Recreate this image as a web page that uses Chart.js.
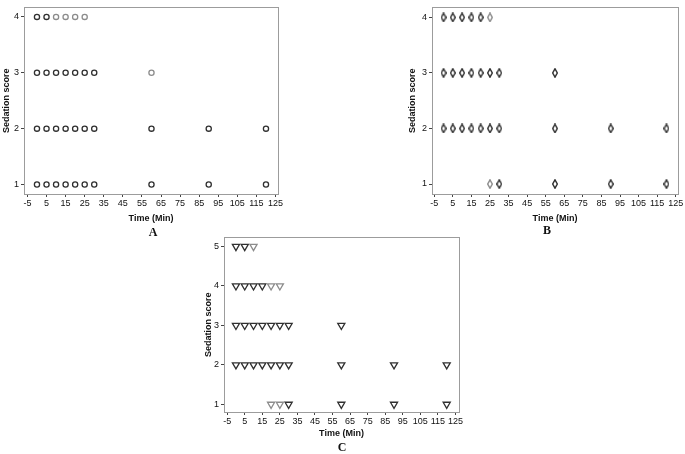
<!DOCTYPE html>
<html>
<head>
<meta charset="utf-8">
<script src="https://cdn.jsdelivr.net/npm/chart.js@4.4.1/dist/chart.umd.min.js"></script>
<style>
  body { margin: 0; background: #fff; width: 685px; height: 454px; position: relative; overflow: hidden; }
  canvas { position: absolute; }
  .letter { position: absolute; font: bold 12px "Liberation Serif", "DejaVu Serif", serif; color: #111; transform: translateX(-50%); line-height: 12px; }
</style>
</head>
<body>
<canvas id="chartA" width="290" height="226" style="left:0;top:0"></canvas>
<canvas id="chartB" width="280" height="226" style="left:405px;top:0"></canvas>
<canvas id="chartC" width="270" height="211" style="left:200px;top:230px"></canvas>
<div class="letter" style="left:153px;top:226px">A</div>
<div class="letter" style="left:547px;top:224px">B</div>
<div class="letter" style="left:342px;top:441px">C</div>
<script>
// shared tick labels
const timeTicks = [-5, 5, 15, 25, 35, 45, 55, 65, 75, 85, 95, 105, 115, 125];
const scoreTicksAB = [1, 2, 3, 4];
const scoreTicksC = [1, 2, 3, 4, 5];

// Panel A (circles) - dark = overlapping cases, light = single case
const aDarkTime  = [0, 5,  0, 5, 10, 15, 20, 25, 30,  0, 5, 10, 15, 20, 25, 30, 60, 90, 120,  0, 5, 10, 15, 20, 25, 30, 60, 90, 120];
const aDarkScore = [4, 4,  3, 3, 3, 3, 3, 3, 3,  2, 2, 2, 2, 2, 2, 2, 2, 2, 2,  1, 1, 1, 1, 1, 1, 1, 1, 1, 1];
const aLightTime  = [10, 15, 20, 25, 60];
const aLightScore = [4, 4, 4, 4, 3];

// Panel B (diamonds)
const bDarkTime  = [0, 5, 10, 15, 20,  0, 5, 10, 15, 20, 25, 30, 60,  0, 5, 10, 15, 20, 25, 30, 60, 90, 120,  30, 60, 90, 120];
const bDarkScore = [4, 4, 4, 4, 4,  3, 3, 3, 3, 3, 3, 3, 3,  2, 2, 2, 2, 2, 2, 2, 2, 2, 2,  1, 1, 1, 1];
const bLightTime  = [25, 25];
const bLightScore = [4, 1];

// Panel C (down triangles)
const cDarkTime  = [0, 5,  0, 5, 10, 15,  0, 5, 10, 15, 20, 25, 30, 60,  0, 5, 10, 15, 20, 25, 30, 60, 90, 120,  30, 60, 90, 120];
const cDarkScore = [5, 5,  4, 4, 4, 4,  3, 3, 3, 3, 3, 3, 3, 3,  2, 2, 2, 2, 2, 2, 2, 2, 2, 2,  1, 1, 1, 1];
const cLightTime  = [10, 20, 25, 20, 25];
const cLightScore = [5, 4, 4, 1, 1];

const DARK = '#303030';
const LIGHT = '#8c8c8c';

const zip = (xs, ys) => xs.map((x, i) => ({ x: x, y: ys[i] }));

function diamond(color) {
  const c = document.createElement('canvas');
  c.width = 6; c.height = 10;
  const g = c.getContext('2d');
  g.strokeStyle = color;
  g.lineWidth = 1.4;
  g.beginPath();
  g.moveTo(3, 0.8); g.lineTo(5.3, 5); g.lineTo(3, 9.2); g.lineTo(0.7, 5);
  g.closePath();
  g.stroke();
  return c;
}

// box around the plot area
const boxFrame = {
  id: 'boxFrame',
  beforeDatasetsDraw(chart) {
    const { ctx, chartArea: a } = chart;
    ctx.save();
    ctx.strokeStyle = '#9c9c9c';
    ctx.lineWidth = 1;
    ctx.strokeRect(Math.round(a.left) + 0.5, Math.round(a.top) + 0.5,
      Math.round(a.right - a.left), Math.round(a.bottom - a.top));
    ctx.restore();
  }
};

function makePanel(id, p) {
  const font = { family: '"Liberation Sans", Arial, sans-serif', size: 9 };
  return new Chart(document.getElementById(id), {
    type: 'scatter',
    data: { datasets: p.datasets },
    options: {
      responsive: false,
      animation: false,
      layout: { padding: p.padding },
      plugins: { legend: { display: false }, tooltip: { enabled: false } },
      scales: {
        x: {
          type: 'linear', min: p.xMin, max: p.xMax,
          afterBuildTicks: s => { s.ticks = timeTicks.map(v => ({ value: v })); },
          afterFit: s => { s.height = p.xHeight; },
          grid: { drawOnChartArea: false, drawTicks: true, tickLength: 3, color: '#444' },
          border: { display: false },
          ticks: { font: font, color: '#111', padding: 1, maxRotation: 0, autoSkip: false },
          title: { display: true, text: 'Time (Min)', color: '#111',
                   font: { family: font.family, size: 9, weight: 'bold' }, padding: { top: 0, bottom: 2 } }
        },
        y: {
          type: 'linear', min: p.yMin, max: p.yMax,
          afterBuildTicks: s => { s.ticks = p.yTicks.map(v => ({ value: v })); },
          afterFit: s => { s.width = p.yWidth; },
          grid: { drawOnChartArea: false, drawTicks: true, tickLength: 3, color: '#444' },
          border: { display: false },
          ticks: { font: font, color: '#111', padding: 2 },
          title: { display: true, text: 'Sedation score', color: '#111',
                   font: { family: font.family, size: 9, weight: 'bold' }, padding: { top: p.yTitlePad, bottom: 0 } }
        }
      }
    },
    plugins: [boxFrame]
  });
}

const circle = (color) => ({
  pointStyle: 'circle', pointRadius: 2.6, pointBorderWidth: 1.3,
  pointBorderColor: color, pointBackgroundColor: 'rgba(0,0,0,0)'
});
const tri = (color) => ({
  pointStyle: 'triangle', pointRotation: 180, pointRadius: 4.1, pointBorderWidth: 1.3,
  pointBorderColor: color, pointBackgroundColor: 'rgba(0,0,0,0)'
});

makePanel('chartA', {
  xMin: -6.8, xMax: 126.3, yMin: 0.83, yMax: 4.17, yTicks: scoreTicksAB,
  yWidth: 24, xHeight: 32, yTitlePad: 1,
  padding: { top: 2, right: 12, left: 0, bottom: 0 },
  datasets: [
    Object.assign({ data: zip(aLightTime, aLightScore) }, circle(LIGHT)),
    Object.assign({ data: zip(aDarkTime, aDarkScore) }, circle(DARK))
  ]
});

makePanel('chartB', {
  xMin: -6.2, xMax: 126.2, yMin: 0.82, yMax: 4.18, yTicks: scoreTicksAB,
  yWidth: 27, xHeight: 32, yTitlePad: 2,
  padding: { top: 7, right: 7, left: 0, bottom: 0 },
  datasets: [
    { data: zip(bLightTime, bLightScore), pointStyle: diamond(LIGHT) },
    { data: zip(bDarkTime, bDarkScore), pointStyle: diamond(DARK) }
  ]
});

makePanel('chartC', {
  xMin: -6.8, xMax: 127, yMin: 0.805, yMax: 5.23, yTicks: scoreTicksC,
  yWidth: 24, xHeight: 29, yTitlePad: 3,
  padding: { top: 7, right: 11, left: 0, bottom: 0 },
  datasets: [
    Object.assign({ data: zip(cLightTime, cLightScore) }, tri(LIGHT)),
    Object.assign({ data: zip(cDarkTime, cDarkScore) }, tri(DARK))
  ]
});
</script>
</body>
</html>
